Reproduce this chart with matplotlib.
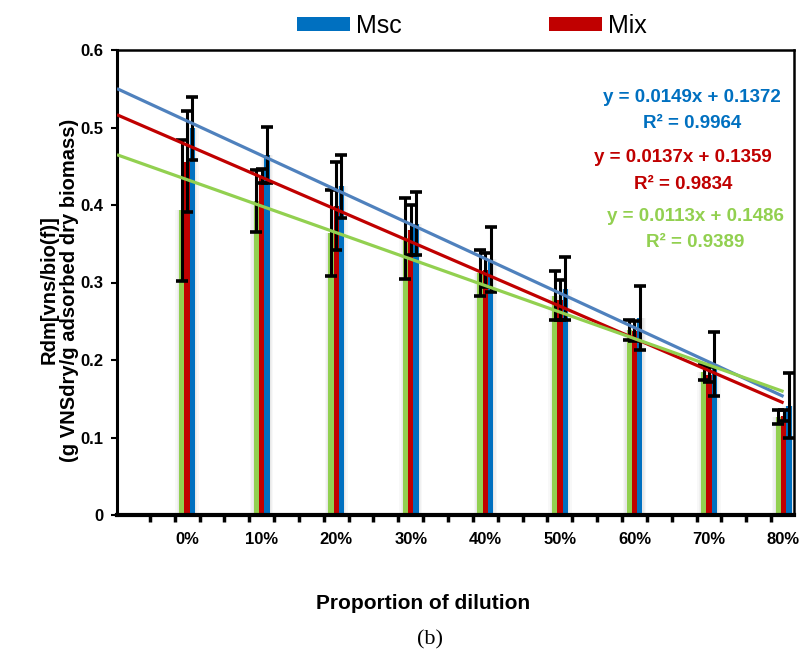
import matplotlib
matplotlib.use("Agg")
import matplotlib.pyplot as plt
import numpy as np
from matplotlib.patches import Patch

categories = ['0%', '10%', '20%', '30%', '40%', '50%', '60%', '70%', '80%']
msc = [0.499, 0.465, 0.424, 0.376, 0.330, 0.292, 0.254, 0.195, 0.141]
msc_err = [0.041, 0.036, 0.041, 0.041, 0.042, 0.041, 0.041, 0.041, 0.042]
mix = [0.456, 0.437, 0.399, 0.368, 0.316, 0.277, 0.237, 0.181, 0.128]
mix_err = [0.065, 0.009, 0.057, 0.032, 0.022, 0.026, 0.013, 0.010, 0.007]
third = [0.393, 0.405, 0.364, 0.357, 0.312, 0.283, 0.239, 0.184, 0.127]
third_err = [0.091, 0.040, 0.056, 0.052, 0.030, 0.032, 0.013, 0.010, 0.009]
eq_msc = ['y = 0.0149x + 0.1372', 'R² = 0.9964']
eq_mix = ['y = 0.0137x + 0.1359', 'R² = 0.9834']
eq_third = ['y = 0.0113x + 0.1486', 'R² = 0.9389']

BLUE = '#0070C0'
RED = '#C00000'
GREEN = '#92D050'
BLUE_LINE = '#4F81BD'

plt.rcParams['font.family'] = ['Liberation Sans', 'DejaVu Sans']

fig = plt.figure(figsize=(8.03, 6.55), dpi=100)
ax = fig.add_axes([117/803, 1-515/655, (794-117)/803, (515-50)/655])

x = np.arange(len(categories))
w = 0.071
xmin, xmax = -0.94, 8.14

series = [(third, third_err, GREEN, -w), (mix, mix_err, RED, 0), (msc, msc_err, BLUE, w)]

# soft shadow behind each bar
for vals, errs, col, off in series:
    for extra, a in [(0.10, 0.05), (0.06, 0.06), (0.03, 0.07)]:
        ax.bar(x + off, vals, width=w + extra, color='#808080', alpha=a, zorder=1, linewidth=0)

err_kw = dict(ecolor='black', elinewidth=2.2, capsize=4.5, capthick=2.6)
for vals, errs, col, off in series:
    ax.bar(x + off, vals, width=w, color=col, zorder=2, linewidth=0)
for vals, errs, col, off in series:
    ax.errorbar(x + off, vals, yerr=errs, fmt='none', zorder=3, **err_kw)

# linear trend lines (fitted from data, extended back to the axis)
xl = np.array([xmin, x[-1]])
for vals, col in [(msc, BLUE_LINE), (mix, RED), (third, GREEN)]:
    p = np.polyfit(x, vals, 1)
    ax.plot(xl, np.polyval(p, xl), color=col, lw=2.3, zorder=4, solid_capstyle='butt')

ax.set_xlim(xmin, xmax)
ax.set_ylim(0, 0.6)
ax.set_yticks(np.arange(0, 0.61, 0.1))
ax.set_yticklabels(['0', '0.1', '0.2', '0.3', '0.4', '0.5', '0.6'], fontweight='bold', fontsize=12)
ax.set_xticks(x)
ax.set_xticklabels(categories, fontweight='bold', fontsize=12)
ax.tick_params(axis='x', which='major', length=0, pad=12)
minor = np.arange(-0.5, xmax, 1/3)
ax.set_xticks(minor, minor=True)
ax.tick_params(axis='x', which='minor', length=5, width=2.5, direction='out')
ax.tick_params(axis='y', length=4, width=1.5, direction='out', pad=6)

for s in ['left', 'right', 'top']:
    ax.spines[s].set_linewidth(1.8)
ax.spines['bottom'].set_linewidth(3)
ax.spines['left'].set_linewidth(2.2)

ax.set_xlabel('Proportion of dilution', fontweight='bold', fontsize=15)
ax.xaxis.set_label_coords((423-117)/677, -(594-515)/465)

fig.text(59/803, 1-290/655, 'Rdm[vns/bio(f)]\n(g VNSdry/g adsorbed dry biomass)',
         rotation=90, ha='center', va='center', fontweight='bold', fontsize=14.5,
         multialignment='center', linespacing=1.08)

fig.text(430/803, 1-640/655, '(b)', ha='center', va='center', fontsize=16,
         family=['Liberation Serif', 'DejaVu Serif'])

for lines, col, cx, y0 in [(eq_msc, BLUE, 692, 97), (eq_mix, RED, 683, 157), (eq_third, GREEN, 695, 216)]:
    fig.text(cx/803, 1-y0/655, lines[0], color=col, ha='center', va='center', fontweight='bold', fontsize=13.5)
    fig.text(cx/803, 1-(y0+27)/655, lines[1], color=col, ha='center', va='center', fontweight='bold', fontsize=13.5)

handles = [Patch(facecolor=BLUE, label='Msc'), Patch(facecolor=RED, label='Mix')]
fig.legend(handles=handles, loc='center', bbox_to_anchor=(472/803, 1-26/655), ncol=2,
           frameon=False, fontsize=18, handlelength=2.1, handleheight=0.52,
           handletextpad=0.25, columnspacing=5.9, borderpad=0)

fig.savefig('out.png', dpi=100)
